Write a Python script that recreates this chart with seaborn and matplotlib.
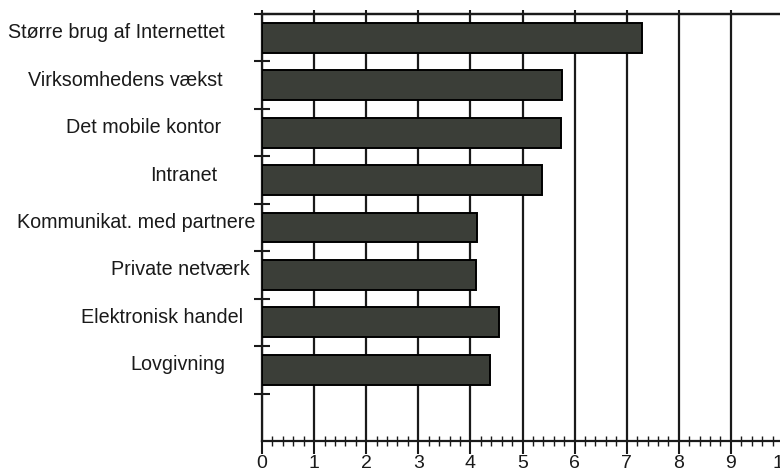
import numpy as np
import pandas as pd
import seaborn as sns
import matplotlib.pyplot as plt
import matplotlib.transforms as mtransforms
from matplotlib.ticker import MultipleLocator, FixedLocator

# data
categories = ["Større brug af Internettet", "Virksomhedens vækst", "Det mobile kontor",
              "Intranet", "Kommunikat. med partnere", "Private netværk",
              "Elektronisk handel", "Lovgivning"]
values = [7.3, 5.75, 5.73, 5.37, 4.13, 4.1, 4.55, 4.38]
x_ticks = list(range(0, 11))

# the scan's labels are not neatly aligned: how far (px) each one sits left of the outermost
label_shift_px = [31, 33, 35, 38, 0, 6, 13, 30]

df = pd.DataFrame({"kategori": categories, "score": values})

sns.set_style("white")
plt.rcParams['font.family'] = ['Liberation Sans', 'DejaVu Sans']

fig = plt.figure(figsize=(7.8, 4.73), dpi=100)
ax = fig.add_axes([262/780, 32/473, 521/780, 427/473])

sns.barplot(data=df, y="kategori", x="score", orient="h", color="#3b3e38",
            edgecolor="black", linewidth=1.4, width=0.63, saturation=1, ax=ax, zorder=3)

ax.set_xlim(0, 10)
ax.set_ylim(8.5, -0.5)
ax.set_xlabel("")
ax.set_ylabel("")

# vertical grid at each integer
ax.set_xticks(x_ticks)
ax.set_xticklabels([str(t) for t in x_ticks], fontsize=14, color="#1a1a1a")
ax.xaxis.set_minor_locator(MultipleLocator(0.2))
ax.grid(axis="x", color="#1a1a1a", linewidth=1.6, zorder=0)
ax.grid(axis="y", visible=False)
ax.set_axisbelow(True)

ax.tick_params(axis="x", which="major", direction="out", length=9.5, width=1.5,
               color="#1a1a1a", pad=0.3, bottom=True)
ax.tick_params(axis="x", which="minor", direction="inout", length=7, width=1.0,
               color="#1a1a1a", bottom=True)

# y ticks at slot boundaries, labels at bar centres
ax.yaxis.set_major_locator(FixedLocator(np.arange(-0.5, 8.0, 1.0)))
ax.yaxis.set_minor_locator(FixedLocator(np.arange(len(categories))))
ax.set_yticklabels([], minor=False)
ax.set_yticklabels(categories, minor=True, fontsize=14.2, color="#1a1a1a")
ax.tick_params(axis="y", which="major", direction="inout", length=11, width=1.5,
               color="#1a1a1a", left=True)
ax.tick_params(axis="y", which="minor", length=0, pad=4.5, left=True)
for lab, dx in zip(ax.get_yticklabels(minor=True), label_shift_px):
    offset = mtransforms.ScaledTranslation(-dx/100, 7/100, fig.dpi_scale_trans)
    lab.set_transform(lab.get_transform() + offset)

for side in ["left", "bottom", "top"]:
    ax.spines[side].set_visible(True)
    ax.spines[side].set_color("#1a1a1a")
    ax.spines[side].set_linewidth(1.6)
ax.spines["right"].set_visible(False)

# small upward ticks on the top line
top = ax.secondary_xaxis("top")
top.set_xticks(x_ticks)
top.set_xticklabels([])
top.tick_params(direction="out", length=3, width=1.5, color="#1a1a1a")
top.spines["top"].set_linewidth(1.6)
top.spines["top"].set_color("#1a1a1a")

plt.savefig("out.png", dpi=100)
